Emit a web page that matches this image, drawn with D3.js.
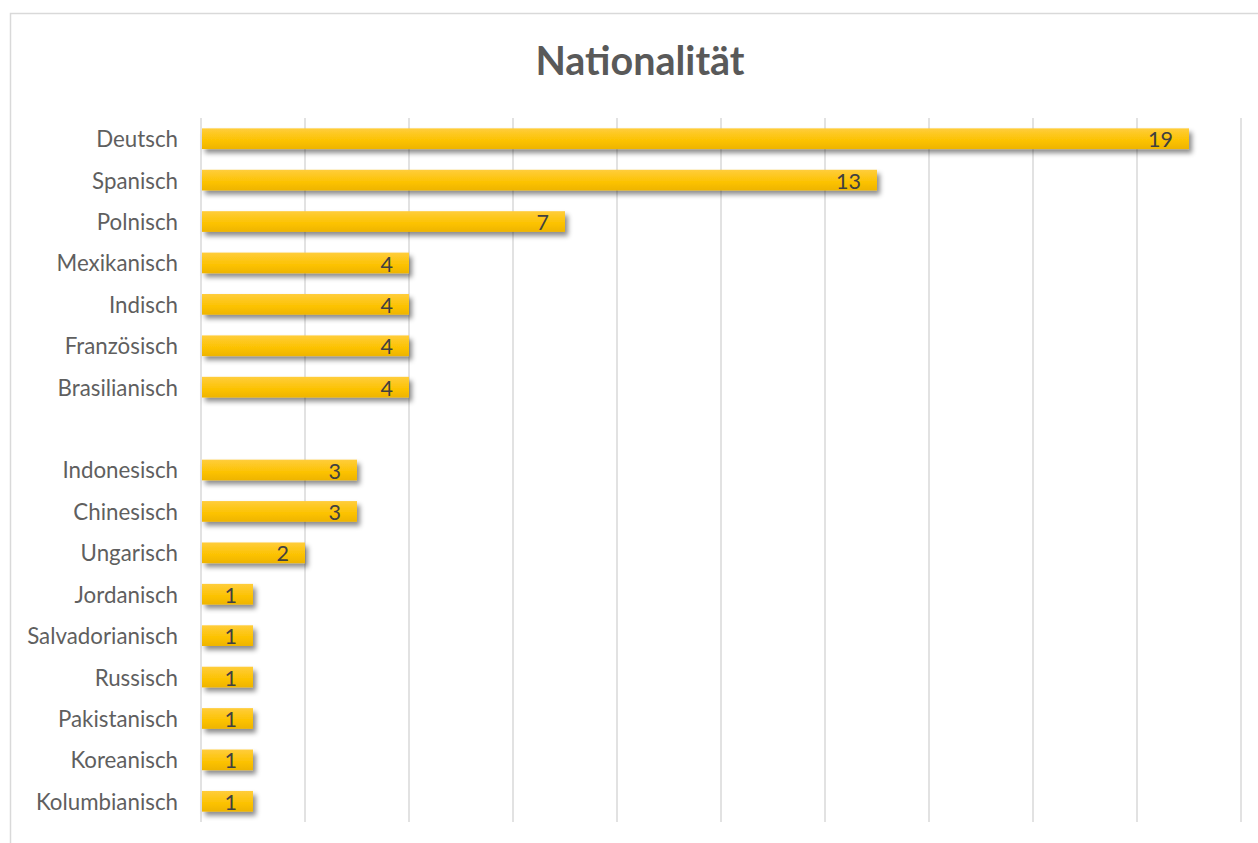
<!DOCTYPE html>
<html>
<head>
<meta charset="utf-8">
<script src="https://cdn.jsdelivr.net/npm/d3@7"></script>
<style>
  body { margin: 0; background: #fff; }
  svg { display: block; }
</style>
</head>
<body>
<div id="chart"></div>
<script>
// categories top to bottom, "" is the empty slot in the original
const NATIONS = ["Deutsch", "Spanisch", "Polnisch", "Mexikanisch", "Indisch", "Französisch",
  "Brasilianisch", "", "Indonesisch", "Chinesisch", "Ungarisch", "Jordanisch",
  "Salvadorianisch", "Russisch", "Pakistanisch", "Koreanisch", "Kolumbianisch"]
const COUNTS = [19, 13, 7, 4, 4, 4, 4, null, 3, 3, 2, 1, 1, 1, 1, 1, 1]
const X_TICKS = [0, 2, 4, 6, 8, 10, 12, 14, 16, 18, 20]

const WIDTH = 1258
const HEIGHT = 843
const LEFT = 201
const RIGHT = 1241
const TOP = 118
const BOTTOM = 822
const FONT = "Lato, 'Open Sans', sans-serif"

const DATA = NATIONS.map((n, i) => ({ key: i, name: n, value: COUNTS[i] }))

const svg = d3.select("#chart")
  .append("svg")
  .attr("width", WIDTH)
  .attr("height", HEIGHT)

const defs = svg.append("defs")
const grad = defs.append("linearGradient")
  .attr("id", "barGrad")
  .attr("x1", 0).attr("y1", 0).attr("x2", 0).attr("y2", 1)
grad.append("stop").attr("offset", "0%").attr("stop-color", "#ffcd3c")
grad.append("stop").attr("offset", "60%").attr("stop-color", "#fcc200")
grad.append("stop").attr("offset", "100%").attr("stop-color", "#eeb400")

const shadow = defs.append("filter")
  .attr("id", "shadow")
  .attr("x", "-10%").attr("y", "-30%").attr("width", "130%").attr("height", "190%")
shadow.append("feDropShadow")
  .attr("dx", 3).attr("dy", 4)
  .attr("stdDeviation", 2.5)
  .attr("flood-color", "#000")
  .attr("flood-opacity", 0.45)

// chart frame
svg.append("rect")
  .attr("x", 10.5).attr("y", 13.5)
  .attr("width", WIDTH).attr("height", HEIGHT)
  .attr("fill", "none")
  .attr("stroke", "#d9d9d9")
  .attr("stroke-width", 1.5)

svg.append("text")
  .attr("x", 640)
  .attr("y", 75)
  .attr("text-anchor", "middle")
  .attr("font-family", FONT)
  .attr("font-weight", "bold")
  .attr("font-size", 39.5)
  .attr("fill", "#595959")
  .text("Nationalität")

const xScale = d3.scaleLinear()
  .domain([0, 20])
  .range([LEFT, RIGHT])

const yScale = d3.scaleBand()
  .domain(DATA.map(d => d.key))
  .range([TOP, BOTTOM])
  .paddingInner(0.5)
  .paddingOuter(0.25)

// vertical gridlines
svg.append("g")
  .selectAll("line")
  .data(X_TICKS)
  .enter()
  .append("line")
  .attr("x1", d => xScale(d))
  .attr("x2", d => xScale(d))
  .attr("y1", TOP)
  .attr("y2", BOTTOM)
  .attr("stroke", "#d9d9d9")
  .attr("stroke-width", 1.5)

const yAxis = d3.axisLeft(yScale)
  .tickSize(0)
  .tickPadding(23)
  .tickFormat(k => NATIONS[k])

const yG = svg.append("g")
  .attr("transform", `translate(${LEFT},0)`)
  .call(yAxis)
yG.select(".domain").remove()
yG.selectAll("text")
  .attr("font-family", FONT)
  .attr("font-size", 22.3)
  .attr("dy", "0.38em")
  .attr("fill", "#5f5f5f")

const bars = DATA.filter(d => d.value !== null)

svg.append("g")
  .selectAll("rect")
  .data(bars)
  .enter()
  .append("rect")
  .attr("x", xScale(0) + 1)
  .attr("y", d => yScale(d.key))
  .attr("width", d => xScale(d.value) - xScale(0) - 1)
  .attr("height", yScale.bandwidth())
  .attr("fill", "url(#barGrad)")
  .attr("filter", "url(#shadow)")

svg.append("g")
  .selectAll("text")
  .data(bars)
  .enter()
  .append("text")
  .attr("x", d => xScale(d.value) - 16)
  .attr("y", d => yScale(d.key) + yScale.bandwidth() / 2)
  .attr("dy", "0.4em")
  .attr("text-anchor", "end")
  .attr("font-family", FONT)
  .attr("font-size", 21.5)
  .attr("fill", "#404040")
  .text(d => d.value)
</script>
</body>
</html>
